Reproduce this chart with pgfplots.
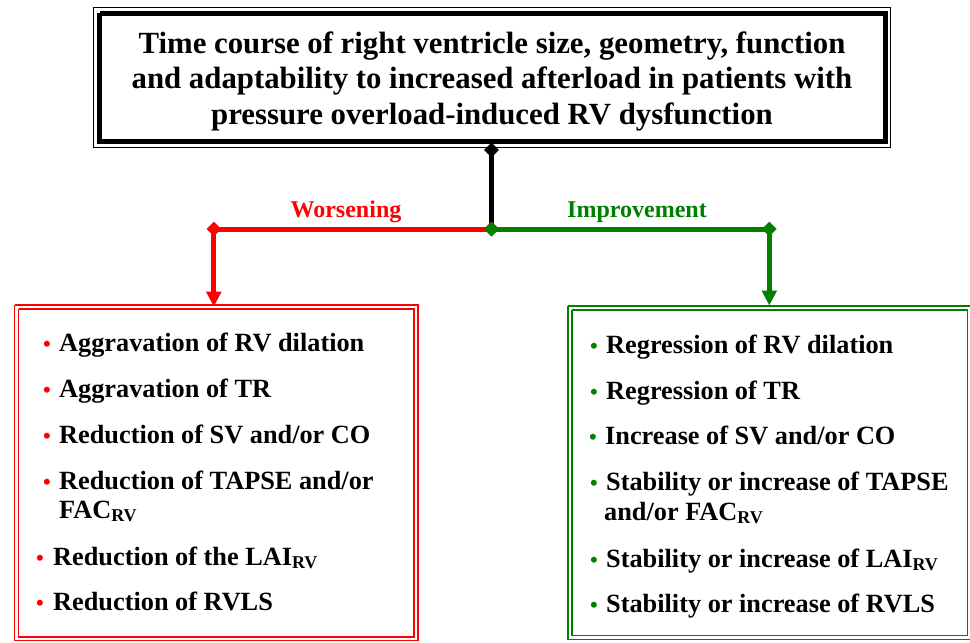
\documentclass[border=0pt]{standalone}
\usepackage{fontspec}
\setmainfont{Liberation Serif}
\usepackage{pgfplots}
\pgfplotsset{compat=1.18}
\usetikzlibrary{arrows.meta}
\definecolor{wred}{RGB}{255,0,0}
\definecolor{igreen}{RGB}{0,128,0}
\newcommand{\sub}[1]{\raisebox{-3bp}{\fontsize{18bp}{18bp}\selectfont #1}}
\tikzset{
  item/.style={anchor=base west,inner sep=0pt,font=\fontsize{26.3bp}{30bp}\selectfont\bfseries},
  bul/.style={anchor=base,inner sep=0pt,font=\fontsize{22bp}{22bp}\selectfont\bfseries},
  ttl/.style={anchor=base,inner sep=0pt,font=\fontsize{30.8bp}{35bp}\selectfont\bfseries},
  lab/.style={anchor=base,inner sep=0pt,font=\fontsize{24bp}{28bp}\selectfont\bfseries}}
\pgfplotsset{dia/.style={mark=diamond*,mark size=7bp,mark options={xscale=1.33,solid,line width=0.4bp}}}
\begin{document}
\begin{tikzpicture}
\begin{axis}[width=970bp,height=642bp,scale only axis,hide axis,
  xmin=0,xmax=970,ymin=0,ymax=642,y dir=reverse,clip=true]
\path[draw=none] (rel axis cs:0,0) rectangle (rel axis cs:1,1);

% top title box
\addplot[black,line width=1.5bp,line join=miter] coordinates {(93.5,7.5)(890.7,7.5)(890.7,147.3)(93.5,147.3)(93.5,7.5)};
\addplot[black,line width=5bp,line join=miter] coordinates {(99.7,13.3)(885,13.3)(885,141.7)(99.7,141.7)(99.7,13.3)};
\addplot[black,line width=2bp] coordinates {(883.5,13)(883.5,140.5)(99,140.5)};
\node[ttl] at (axis cs:492,54) {Time course of right ventricle size, geometry, function};
\node[ttl] at (axis cs:492,89) {and adaptability to increased afterload in patients with};
\node[ttl] at (axis cs:492,124) {pressure overload-induced RV dysfunction};

% connectors
\addplot[black,line width=5bp] coordinates {(491.5,150)(491.5,231)};
\addplot[black,dia,mark size=7bp,only marks] coordinates {(491.5,150)};
\addplot[wred,line width=5bp,-{Triangle[width=14.5bp,length=15bp]}] coordinates {(213.8,229)(213.8,306.7)};
\addplot[igreen,line width=5bp,-{Triangle[width=14.5bp,length=15bp]}] coordinates {(769.3,229)(769.3,305.5)};
\addplot[wred,line width=5bp,dia] coordinates {(213.8,229)(491.5,229)};
\addplot[igreen,line width=5bp,dia] coordinates {(491.5,229)(769.3,229)};
\node[lab,text=wred] at (axis cs:346,217) {Worsening};
\node[lab,text=igreen] at (axis cs:637,217) {Improvement};

% left box
\addplot[wred,line width=1.8bp,line join=miter] coordinates {(14.5,305)(418.3,305)(418.3,640.5)(14.5,640.5)(14.5,305)};
\addplot[wred,line width=1.8bp,line join=miter] coordinates {(18.5,308.8)(414.3,308.8)(414.3,636.8)(18.5,636.8)(18.5,308.8)};

% right box
\addplot[igreen,line width=1.7bp,line join=miter] coordinates {(568.3,305.8)(975,305.8)(975,639.5)(568.3,639.5)(568.3,305.8)};
\addplot[igreen,line width=1.7bp,line join=miter] coordinates {(572,310)(967.5,310)(967.5,635.5)(572,635.5)(572,310)};

% left items
\node[bul,text=wred] at (axis cs:47,351) {•};
\node[item] at (axis cs:59,351) {Aggravation of RV dilation};
\node[bul,text=wred] at (axis cs:47,397) {•};
\node[item] at (axis cs:59,397) {Aggravation of TR};
\node[bul,text=wred] at (axis cs:47,443) {•};
\node[item] at (axis cs:59,443) {Reduction of SV and/or CO};
\node[bul,text=wred] at (axis cs:47,489) {•};
\node[item] at (axis cs:59,489) {Reduction of TAPSE and/or};
\node[item] at (axis cs:59,518) {FAC\sub{RV}};
\node[bul,text=wred] at (axis cs:40,565) {•};
\node[item] at (axis cs:53,565) {Reduction of the LAI\sub{RV}};
\node[bul,text=wred] at (axis cs:40,610) {•};
\node[item] at (axis cs:53,610) {Reduction of RVLS};

% right items
\node[bul,text=igreen] at (axis cs:594,353) {•};
\node[item] at (axis cs:606,353) {Regression of RV dilation};
\node[bul,text=igreen] at (axis cs:594,399) {•};
\node[item] at (axis cs:606,399) {Regression of TR};
\node[bul,text=igreen] at (axis cs:593,444) {•};
\node[item] at (axis cs:605,444) {Increase of SV and/or CO};
\node[bul,text=igreen] at (axis cs:594,490) {•};
\node[item] at (axis cs:606,490) {Stability or increase of TAPSE};
\node[item] at (axis cs:604,520) {and/or FAC\sub{RV}};
\node[bul,text=igreen] at (axis cs:594,567) {•};
\node[item] at (axis cs:606,567) {Stability or increase of LAI\sub{RV}};
\node[bul,text=igreen] at (axis cs:594,612) {•};
\node[item] at (axis cs:606,612) {Stability or increase of RVLS};
\end{axis}
\end{tikzpicture}
\end{document}
